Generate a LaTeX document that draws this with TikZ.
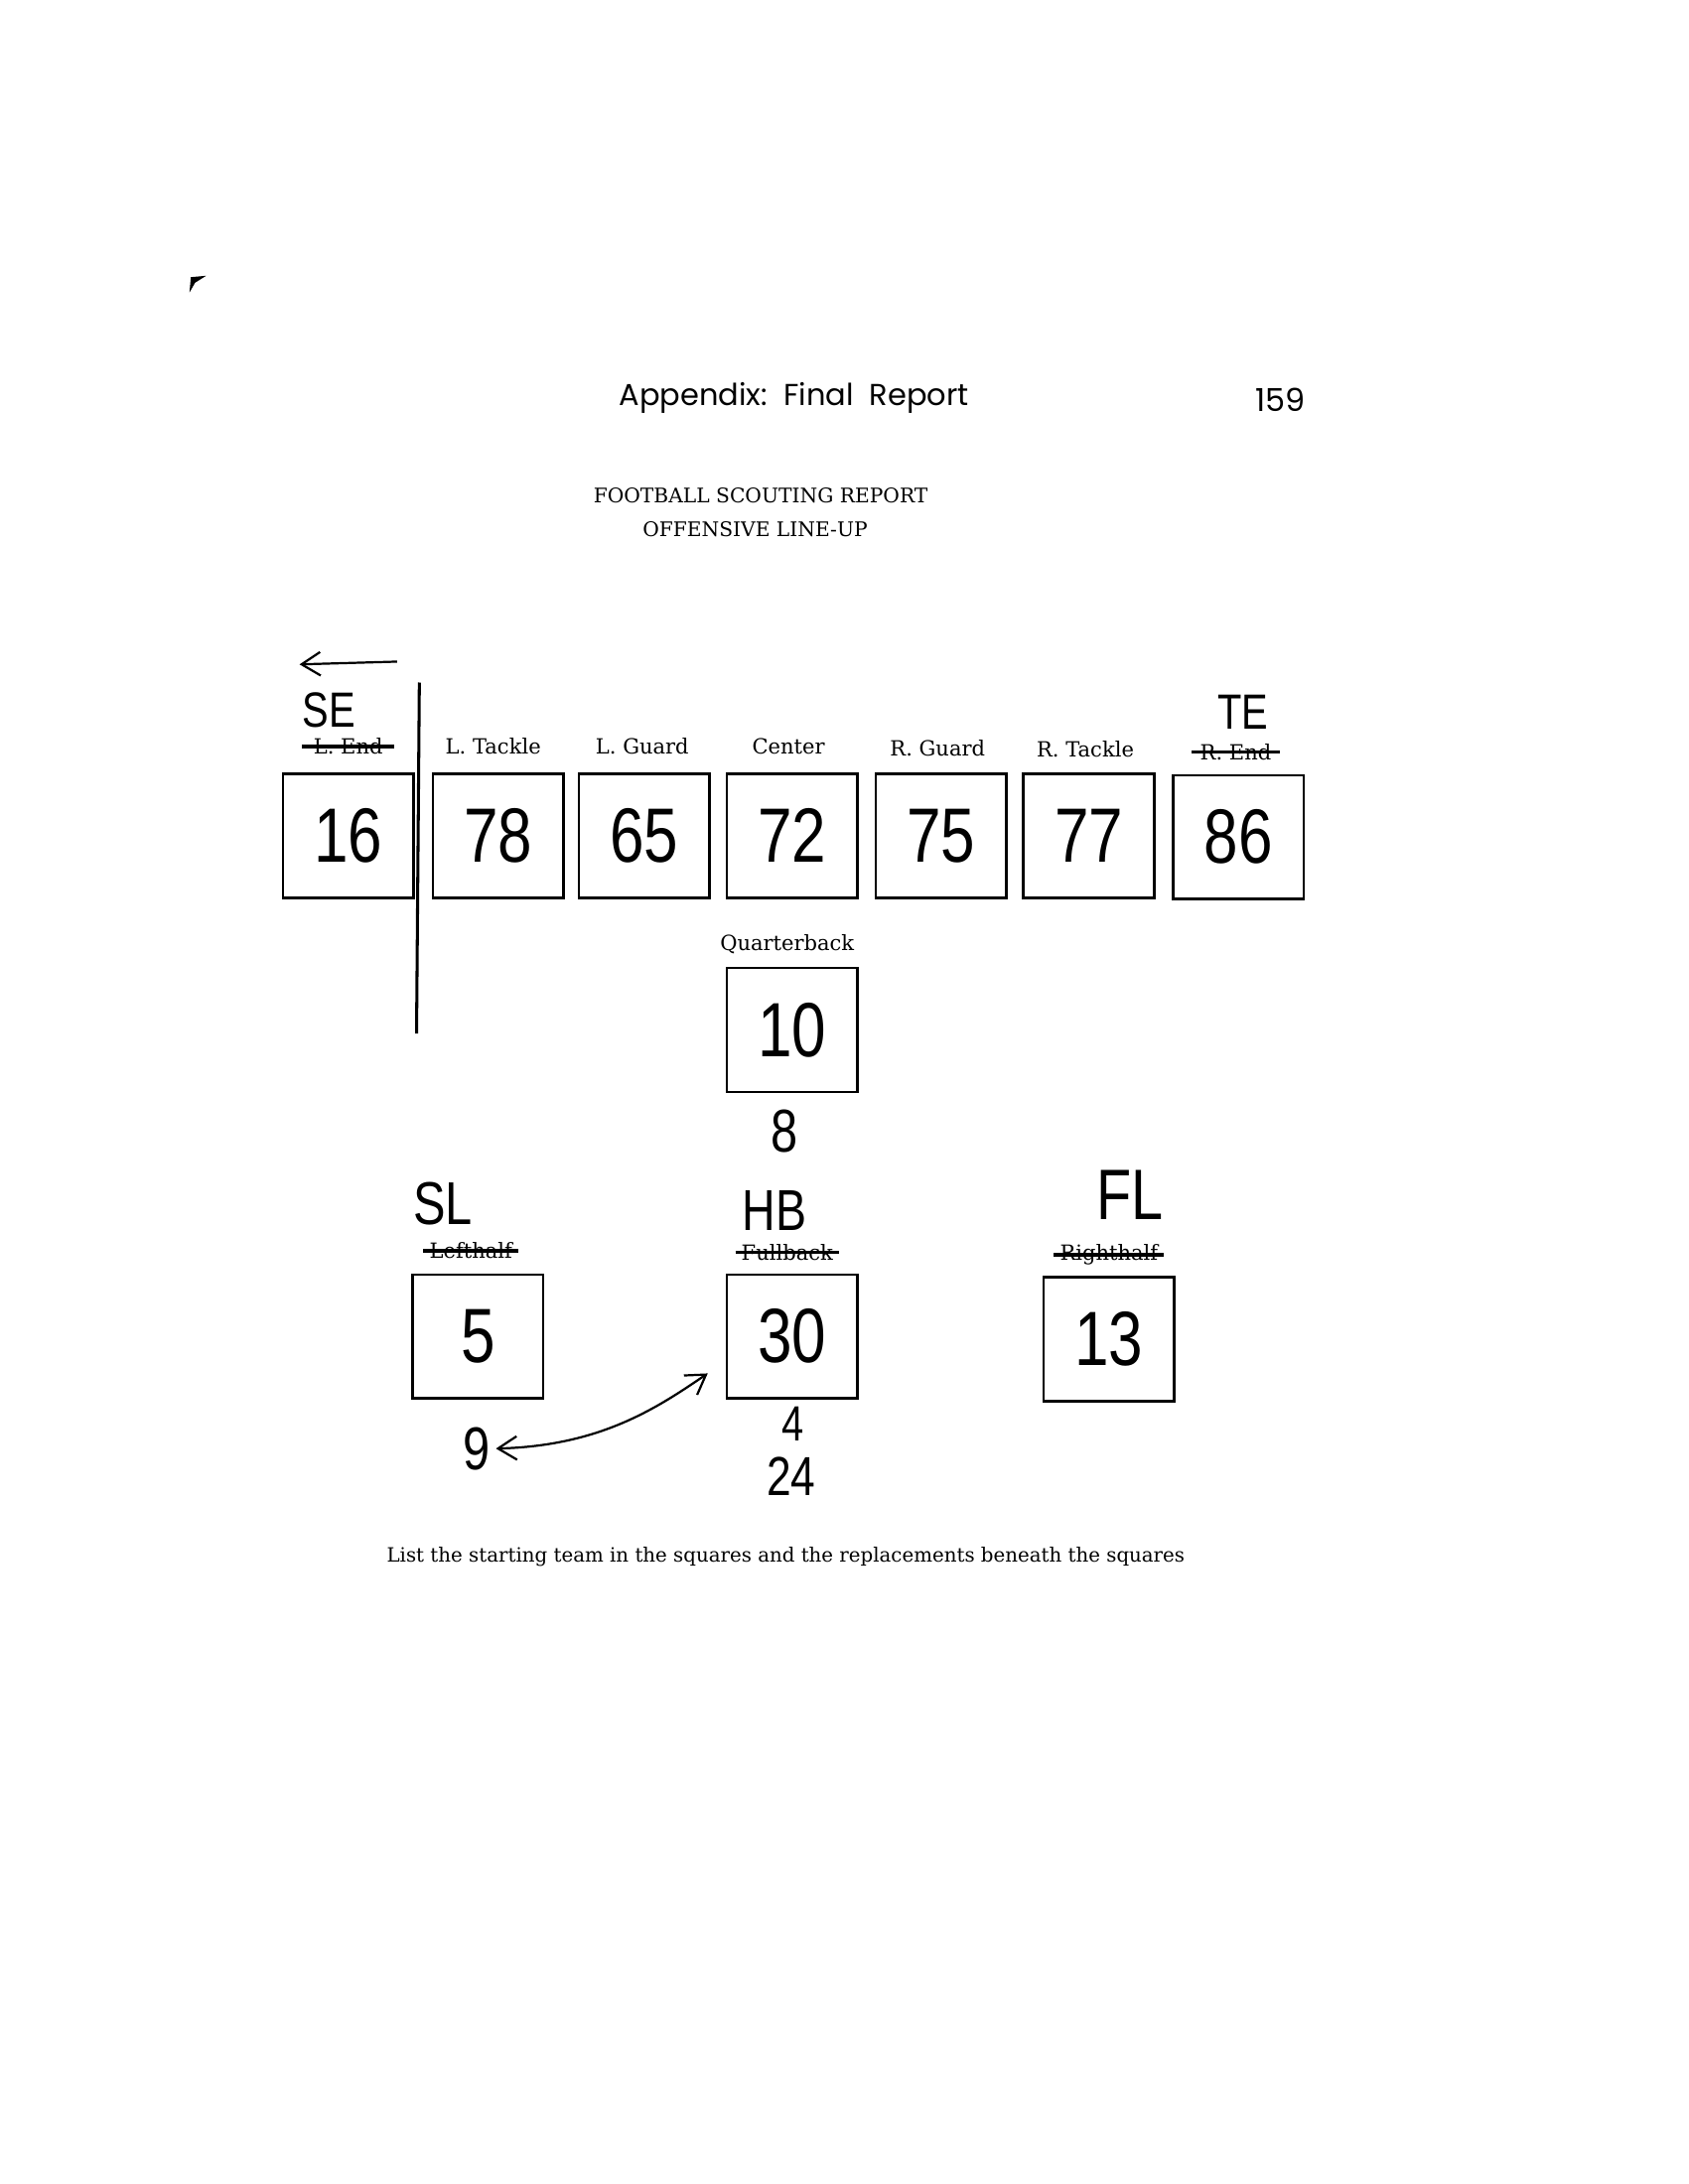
\documentclass[tikz,border=0pt]{standalone}
\usepackage{fontspec}
\setmainfont{DejaVu Serif}
\newfontfamily\headfont{Poppins}
\newfontfamily\hand[FakeStretch=0.8]{Liberation Sans}
\usetikzlibrary{positioning,arrows.meta}
\tikzset{
  sq/.style={draw,line width=0.9pt,minimum width=1.67cm,minimum height=1.585cm,inner sep=0pt,font=\hand\fontsize{28}{30}\selectfont},
  poslab/.style={font=\fontsize{7.6}{8}\selectfont,inner sep=1pt},
  scrib/.style={font=\hand\fontsize{#1}{#1}\selectfont,inner sep=0pt},
  strike/.style={line width=1.3pt},
  pen/.style={line width=0.8pt},
  barb/.style={-{Straight Barb[length=2.4mm,width=3mm]},pen},
}

\begin{document}
\begin{tikzpicture}[x=0.017813cm,y=-0.017813cm]
\useasboundingbox (0,0) rectangle (1212,1568);
\fill (136,210) -- (137,199) -- (148,198) -- (140,203) -- cycle;
\node[font=\headfont\fontsize{11}{13}\selectfont] (head) at (570,286) {Appendix:\ \ Final\ \ Report};
\node[font=\headfont\fontsize{11.5}{13}\selectfont] (page) at (919,287) {159};
\node[poslab,font=\fontsize{7.3}{8}\selectfont] (title) at (546,356) {FOOTBALL SCOUTING REPORT};
\node[poslab,font=\fontsize{7.3}{8}\selectfont] (sub) at (542,380) {OFFENSIVE LINE-UP};

% line of scrimmage
\node[sq] (se) at (250,600) {16};
\node[sq] (lt) at (357.5,600) {78};
\node[sq] (lg) at (462.5,600) {65};
\node[sq] (ce) at (568.5,600) {72};
\node[sq] (rg) at (675.5,600) {75};
\node[sq] (rt) at (781.5,600) {77};
\node[sq] (te) at (889,601) {86};
\node[poslab] (lend) at (250,536) {L. End};
\node[poslab] (ltlab) at (354,536) {L. Tackle};
\node[poslab] (lglab) at (461,536) {L. Guard};
\node[poslab] (celab) at (566,536) {Center};
\node[poslab] (rglab) at (673,537) {R. Guard};
\node[poslab] (rtlab) at (779,538) {R. Tackle};
\node[poslab] (rend) at (887,540) {R. End};
\draw[strike] ([xshift=-3pt]lend.west) -- ([xshift=3pt]lend.east);
\draw[strike] ([xshift=-2pt]rend.west) -- ([xshift=2pt]rend.east);
\node[scrib=18] (selab) at (236,510) {SE};
\node[scrib=18] (telab) at (892,511) {TE};
\coordinate (motA) at (285,475);
\coordinate (motB) at (215,477);
\draw[barb] (motA) -- (motB);
\coordinate (scrimtop) at (301,490);
\coordinate (scrimbot) at (299,742);
\draw[line width=1.1pt] (scrimtop) -- (scrimbot);

% backfield
\node[poslab] (qblab) at (565,678) {Quarterback};
\node[sq] (qb) at (568.5,739.5) {10};
\node[scrib=22] (qbsub) at (563,812) {8};
\node[sq] (sl) at (343,959.5) {5};
\node[sq] (hb) at (568.5,959.5) {30};
\node[sq] (fl) at (796,961.5) {13};
\node[poslab] (lhalf) at (338,898) {Lefthalf};
\node[poslab] (fback) at (565,899) {Fullback};
\node[poslab] (rhalf) at (796,901) {Righthalf};
\draw[strike] ([xshift=-1pt]lhalf.west) -- ([xshift=1pt]lhalf.east);
\draw[strike] ([xshift=-1pt]fback.west) -- ([xshift=1pt]fback.east);
\draw[strike] ([xshift=-1pt]rhalf.west) -- ([xshift=1pt]rhalf.east);
\node[scrib=22] (sllab) at (318,864) {SL};
\node[scrib=21] (hblab) at (556,869) {HB};
\node[scrib=26] (fllab) at (811,858) {FL};
\node[scrib=22] (nine) at (342,1040) {9};
\node[scrib=18] (four) at (569,1022) {4};
\node[scrib=20] (twofour) at (568,1060) {24};
\coordinate (hbtip) at (508,986);
\draw[pen,{Straight Barb[length=2.4mm,width=3mm]}-{Straight Barb[length=2.4mm,width=3mm]}] ([xshift=2pt]nine.east) .. controls (430,1038) and (470,1012) .. (hbtip);

\node[font=\fontsize{7.15}{9}\selectfont] (note) at (564,1118) {List the starting team in the squares and the replacements beneath the squares};
\end{tikzpicture}
\end{document}
